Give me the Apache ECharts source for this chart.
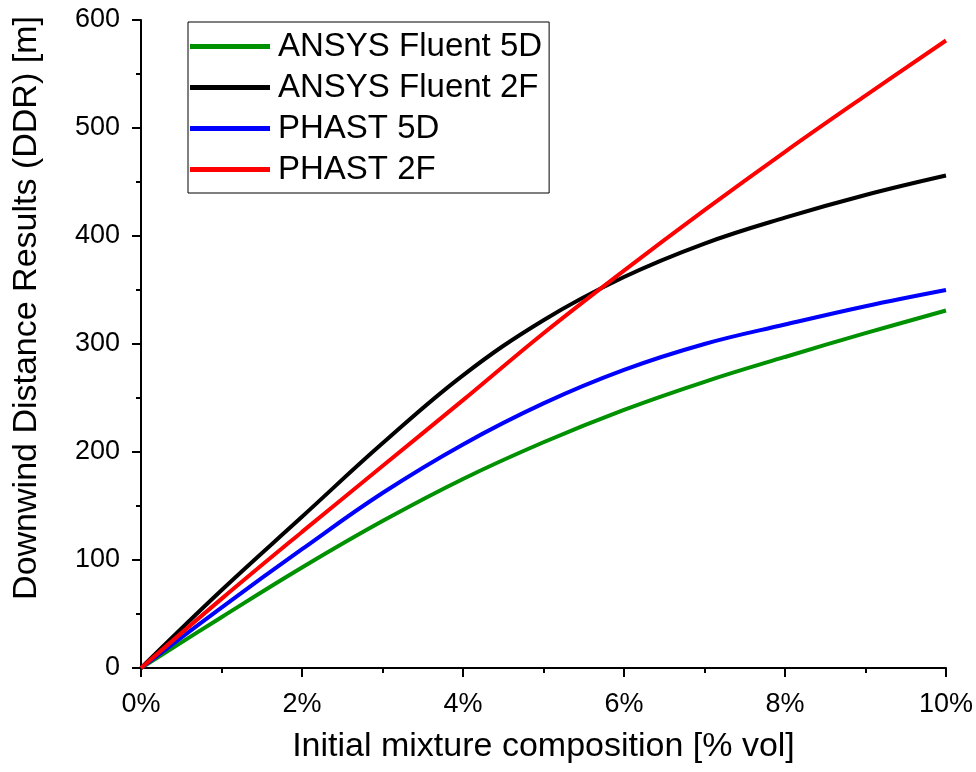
<!DOCTYPE html>
<html lang="en">
<head>
    <meta charset="UTF-8">
    <title>DDR vs mixture composition</title>
    <script src="https://cdn.jsdelivr.net/npm/echarts@6/dist/echarts.min.js"></script>
    <style>
        body { margin: 0; background: #fff; }
        #main { width: 976px; height: 772px; }
    </style>
</head>
<body>
    <div id="main"></div>
    <script>
        // initial mixture composition [% vol]
        const composition = [0, 1, 2, 3, 4, 5, 6, 7, 8, 9, 10]
        // downwind distance [m]
        const fluent5D = [0, 47, 93, 136, 175, 209, 239, 265, 288, 310, 331]
        const fluent2F = [0, 72, 140, 208, 271, 322, 362, 393, 417, 438, 456]
        const phast5D = [0, 56, 110, 162, 207, 245, 276, 300, 318, 335, 350]
        const phast2F = [0, 64, 126, 187, 248, 310, 368, 424, 478, 530, 581]

        const seriesNames = ['ANSYS Fluent 5D', 'ANSYS Fluent 2F', 'PHAST 5D', 'PHAST 2F']
        const seriesColors = ['#009100', '#000000', '#0000ff', '#ff0000']
        const seriesData = [fluent5D, fluent2F, phast5D, phast2F]

        const font = 'Arial, "Liberation Sans", sans-serif'
        let chart = echarts.init(document.getElementById('main'))

        const axisCommon = {
            axisLine: { show: true, lineStyle: { color: '#000', width: 2 } },
            axisTick: { show: true, inside: false, length: 9, lineStyle: { color: '#000', width: 2 } },
            minorTick: { show: true, splitNumber: 2, length: 5, lineStyle: { color: '#000', width: 2 } },
            splitLine: { show: false }
        }

        let option = {
            backgroundColor: '#fff',
            animation: false,
            grid: { left: 141, right: 28, top: 20, bottom: 104 },
            legend: {
                orient: 'vertical',
                left: 188,
                top: 22,
                padding: [8, 7, 7, 2],
                itemGap: 8,
                itemWidth: 80,
                itemHeight: 5,
                icon: 'rect',
                borderColor: '#000',
                borderWidth: 1,
                textStyle: { color: '#000', fontSize: 33, fontFamily: font, padding: [0, 0, 0, 3] },
                data: seriesNames
            },
            xAxis: Object.assign({}, axisCommon, {
                type: 'value',
                min: 0,
                max: 10,
                interval: 2,
                name: 'Initial mixture composition [% vol]',
                nameLocation: 'middle',
                nameGap: 62,
                nameTextStyle: { color: '#000', fontSize: 34, fontFamily: font },
                axisLabel: { color: '#000', fontSize: 27, fontFamily: font, margin: 23, formatter: '{value}%' }
            }),
            yAxis: Object.assign({}, axisCommon, {
                type: 'value',
                min: 0,
                max: 600,
                interval: 100,
                name: 'Downwind Distance Results (DDR) [m]',
                nameLocation: 'middle',
                nameGap: 97,
                nameTextStyle: { color: '#000', fontSize: 34, fontFamily: font, padding: [0, 0, 0, 72] },
                axisLabel: { color: '#000', fontSize: 27, fontFamily: font, margin: 21 }
            }),
            series: seriesNames.map((name, i) => ({
                name: name,
                type: 'line',
                smooth: 0.4,
                symbol: 'none',
                color: seriesColors[i],
                lineStyle: { width: 4, color: seriesColors[i] },
                data: composition.map((x, j) => [x, seriesData[i][j]])
            }))
        }

        chart.setOption(option)
    </script>
</body>
</html>
